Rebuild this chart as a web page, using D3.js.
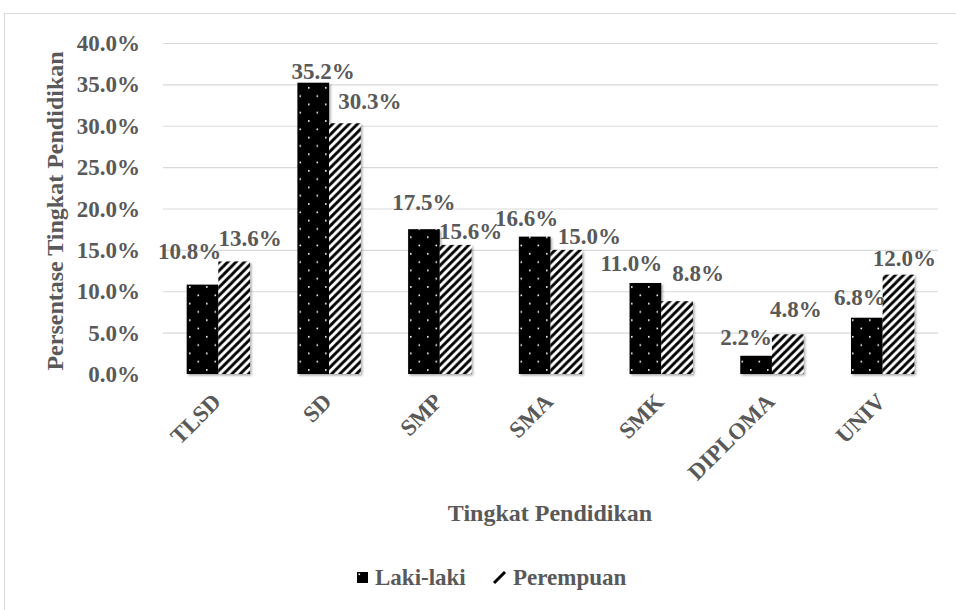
<!DOCTYPE html>
<html>
<head>
<meta charset="utf-8">
<script src="https://cdn.jsdelivr.net/npm/d3@7"></script>
</head>
<body style="margin:0;padding:0;background:#fff">
<svg id="chart" width="956" height="610"></svg>
<script>
// ---- data ----
const categories = ["TLSD", "SD", "SMP", "SMA", "SMK", "DIPLOMA", "UNIV"];
const seriesNames = ["Laki-laki", "Perempuan"];
const lakiLaki = [10.8, 35.2, 17.5, 16.6, 11.0, 2.2, 6.8];
const perempuan = [13.6, 30.3, 15.6, 15.0, 8.8, 4.8, 12.0];
const yTicks = [0, 5, 10, 15, 20, 25, 30, 35, 40];
const xTitle = "Tingkat Pendidikan";
const yTitle = "Persentase Tingkat Pendidikan";

// label nudges (layout only), [dx, dy] relative to bar-top centre, per series
const nudgeLaki = [[-13, -33], [10, -11], [0, -27], [-8, -18], [-14, -20], [-10, -18], [-7, -20]];
const nudgePer  = [[16, -23], [25, -22], [15, -14], [23, -13], [21, -28], [8, -25], [6, -16]];

const FONT = "Liberation Serif";
const TXT = "#595959";
function styleText(sel, size) {
  return sel.style("font-family", FONT).style("font-weight", "bold")
    .style("font-size", size + "px").style("fill", TXT);
}

const svg = d3.select("#chart");
const defs = svg.append("defs");

// dotted pattern (black with white dots)
const pd = defs.append("pattern").attr("id", "dots").attr("patternUnits", "userSpaceOnUse")
  .attr("width", 17).attr("height", 16.6);
pd.append("rect").attr("width", 17).attr("height", 16.6).attr("fill", "#000");
pd.append("rect").attr("x", 2).attr("y", 4).attr("width", 1.6).attr("height", 1.6).attr("fill", "#fff");
pd.append("rect").attr("x", 10.5).attr("y", 12.3).attr("width", 1.6).attr("height", 1.6).attr("fill", "#fff");

// diagonal stripe pattern
const ps = defs.append("pattern").attr("id", "stripes").attr("patternUnits", "userSpaceOnUse")
  .attr("width", 8.3).attr("height", 8.3);
ps.append("rect").attr("width", 8.3).attr("height", 8.3).attr("fill", "#fff");
ps.append("path").attr("d", "M-2,2.15 L2.15,-2 M0,8.3 L8.3,0 M6.15,10.45 L10.45,6.15")
  .attr("stroke", "#000").attr("stroke-width", 2.8);

// shadow
const f = defs.append("filter").attr("id", "shadow").attr("x", "-20%").attr("y", "-20%").attr("width", "140%").attr("height", "140%");
f.append("feDropShadow").attr("dx", 1.5).attr("dy", 1.5).attr("stdDeviation", 1.3)
  .attr("flood-color", "#000").attr("flood-opacity", 0.35);

// outer chart border
svg.append("rect").attr("x", 4.5).attr("y", 13.5).attr("width", 980).attr("height", 700)
  .attr("fill", "none").attr("stroke", "#d9d9d9").attr("stroke-width", 1);

const plotL = 163, plotR = 938, plotT = 43, plotB = 374;
const y = d3.scaleLinear().domain([0, 40]).range([plotB, plotT]);
const x0 = d3.scaleBand().domain(categories).range([plotL, plotR]).paddingInner(0.428).paddingOuter(0.214);
const x1 = d3.scaleBand().domain(seriesNames).range([0, x0.bandwidth()]);

// gridlines
svg.append("g").selectAll("line").data(yTicks.filter(d => d > 0)).join("line")
  .attr("x1", plotL).attr("x2", plotR)
  .attr("y1", d => y(d) + 0.5).attr("y2", d => y(d) + 0.5)
  .attr("stroke", "#d9d9d9").attr("stroke-width", 1.2);

// y axis tick labels
const yAxis = d3.axisLeft(y).tickValues(yTicks).tickSize(0).tickPadding(0)
  .tickFormat(d => d.toFixed(1) + "%");
const gy = svg.append("g").attr("transform", `translate(140,0)`).call(yAxis);
gy.select(".domain").remove();
styleText(gy.selectAll("text"), 23).attr("dy", "0.33em");

// bars
const rows = categories.map((c, i) => ({ c, i, vals: [lakiLaki[i], perempuan[i]] }));
const fills = ["url(#dots)", "url(#stripes)"];
const gBars = svg.append("g");
rows.forEach(r => {
  r.vals.forEach((v, s) => {
    gBars.append("rect")
      .attr("x", x0(r.c) + x1(seriesNames[s]))
      .attr("y", y(v))
      .attr("width", x1.bandwidth())
      .attr("height", y(0) - y(v))
      .attr("fill", fills[s])
      .attr("filter", "url(#shadow)");
  });
});

// baseline axis
const xAxis = d3.axisBottom(x0).tickSize(0).tickFormat("");
const gx = svg.append("g").attr("transform", `translate(0,${plotB})`).call(xAxis);
gx.select(".domain").attr("stroke", "#bfbfbf").attr("stroke-width", 1.5).attr("filter", "url(#shadow)");

// x category labels
styleText(svg.append("g").selectAll("text").data(categories).join("text")
  .attr("transform", d => `translate(${x0(d) + x0.bandwidth() / 2 + 4},403) rotate(-45)`)
  .attr("text-anchor", "end").text(d => d), 23);

// data labels
const gLab = svg.append("g");
rows.forEach(r => {
  const nud = [nudgeLaki[r.i], nudgePer[r.i]];
  r.vals.forEach((v, s) => {
    styleText(gLab.append("text")
      .attr("x", x0(r.c) + x1(seriesNames[s]) + x1.bandwidth() / 2 + nud[s][0])
      .attr("y", y(v) + nud[s][1])
      .attr("dy", "0.33em")
      .attr("text-anchor", "middle")
      .text(v.toFixed(1) + "%"), 23);
  });
});

// axis titles
styleText(svg.append("text").attr("x", 550).attr("y", 513).attr("dy", "0.33em")
  .attr("text-anchor", "middle").text(xTitle), 24);
styleText(svg.append("text").attr("transform", "translate(55,211) rotate(-90)").attr("dy", "0.33em")
  .attr("text-anchor", "middle").text(yTitle), 24);

// legend
const lg = svg.append("g");
lg.append("rect").attr("x", 357).attr("y", 572).attr("width", 11).attr("height", 11).attr("fill", "#000");
lg.append("rect").attr("x", 358.5).attr("y", 573.5).attr("width", 1.6).attr("height", 1.6).attr("fill", "#fff");
styleText(lg.append("text").attr("x", 375).attr("y", 577.5).attr("dy", "0.33em").text(seriesNames[0]), 23);
lg.append("path").attr("d", "M494,583 L505,572").attr("stroke", "#000").attr("stroke-width", 3).attr("stroke-linecap", "butt");
styleText(lg.append("text").attr("x", 513).attr("y", 577.5).attr("dy", "0.33em").text(seriesNames[1]), 23);
</script>
</body>
</html>
